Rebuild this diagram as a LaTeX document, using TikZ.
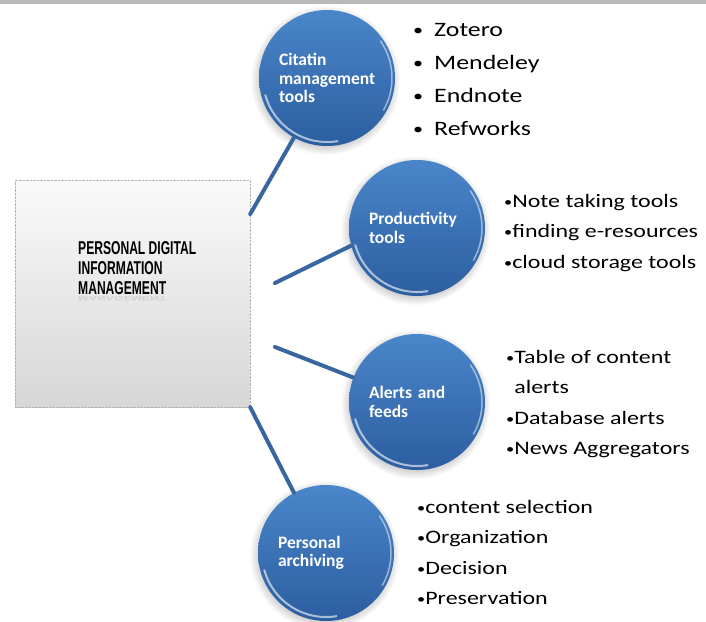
\documentclass[tikz,border=0pt]{standalone}
\usepackage{fontspec}
\setmainfont{Carlito}
\newfontfamily\listfont[FakeStretch=1.26]{Carlito}
\newfontfamily\boxfont[FakeStretch=0.65]{Liberation Sans}
\usetikzlibrary{shadows}
\definecolor{linkblue}{RGB}{58,102,160}
\definecolor{bubbletop}{RGB}{74,134,202}
\definecolor{bubblebottom}{RGB}{44,94,160}
\newcommand{\bul}[1][13]{\raisebox{1pt}{\fontsize{#1}{#1}\selectfont•}}
\tikzset{pdimbox/.style={rectangle,minimum width=235pt,minimum height=227pt,
  top color=gray!4,bottom color=gray!32,draw=gray!60,densely dotted,thin}}
\tikzset{boxtext/.style={anchor=north west,inner sep=0pt,align=left,text=black,
  font=\boxfont\bfseries\fontsize{18.6}{20}\selectfont}}
\tikzset{bubble/.style={circle,minimum size=136pt,inner sep=0pt,text width=96pt,align=left,
  top color=bubbletop,bottom color=bubblebottom,text=white,
  font=\bfseries\fontsize{17.5}{18.5}\selectfont,
  circular drop shadow={shadow xshift=-1.5pt,shadow yshift=-2pt,fill=gray!70,opacity=.6},
  path picture={
    \draw[white,opacity=.6,line width=2pt] ([shift={(195:64pt)}]path picture bounding box.center)
      arc[start angle=195,end angle=280,radius=64pt];
    \draw[white,opacity=.5,line width=1.5pt] ([shift={(-30:65pt)}]path picture bounding box.center)
      arc[start angle=-30,end angle=35,radius=65pt];}}}
\tikzset{tools/.style={anchor=north west,inner sep=0pt,align=left,
  font=\listfont\fontsize{19}{30.5}\selectfont}}
\tikzset{link/.style={draw=linkblue,line width=4pt,line cap=round}}

\begin{document}
\begin{tikzpicture}[x=1pt,y=-1pt]
\useasboundingbox (0,0) rectangle (706,621);
\fill[gray!55] (0,0) rectangle (706,4);
% centre box
\node (pdim) [pdimbox] at (132.5,293.5) {};
\node (pdimecho) [boxtext,text=gray,opacity=.2] at (78,296.5) {\scalebox{1}[-0.35]{MANAGEMENT}};
\node (pdimtext) [boxtext] at (78,241.7) {PERSONAL DIGITAL\\INFORMATION\\MANAGEMENT};
% bubbles
\node (cit) [bubble] at (327,78) {Citatin\\management\\tools};
\node (prod) [bubble] at (417,228) {Productivity\\tools};
\node (alert) [bubble] at (417,402) {Alerts and\\feeds};
\node (arch) [bubble] at (326,553) {Personal\\archiving};
%
\coordinate (prodfoot) at (275,283);
\coordinate (alertfoot) at (275,347);
\path[link] (pdim.34) edge (cit.241);
\path[link] (prodfoot) edge (prod.195);
\path[link] (alertfoot) edge (alert.159);
\path[link] (pdim.south east) edge (arch.118);
% lists
\node (citlist) [tools,font=\listfont\fontsize{20.5}{33}\selectfont] at (413,22.8)
  {\bul[16]\hspace{11pt}Zotero\\\bul[16]\hspace{11pt}Mendeley\\\bul[16]\hspace{11pt}Endnote\\\bul[16]\hspace{11pt}Refworks};
\node (prodlist) [tools] at (504,194) {\bul Note taking tools\\\bul finding e-resources\\\bul cloud storage tools};
\node (alertlist) [tools] at (506,349.7) {\bul Table of content\\\phantom{\bul}alerts\\\bul Database alerts\\\bul News Aggregators};
\node (archlist) [tools] at (417,500) {\bul content selection\\\bul Organization\\\bul Decision\\\bul Preservation};
\end{tikzpicture}
\end{document}
